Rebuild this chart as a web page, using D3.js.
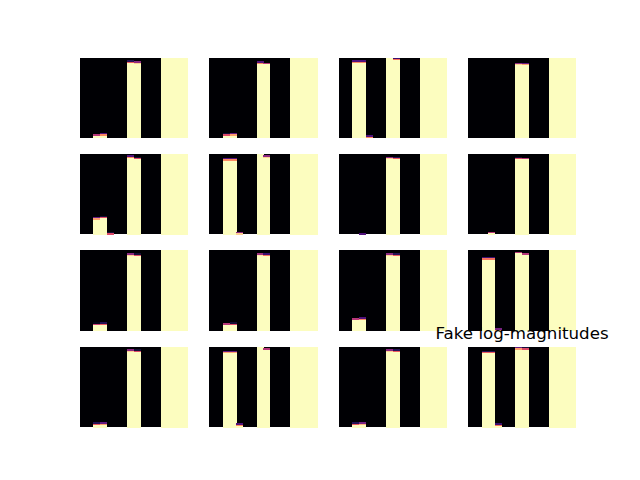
<!doctype html>
<html>
<head>
<meta charset="utf-8">
<title>Fake log-magnitudes</title>
<script src="https://cdn.jsdelivr.net/npm/d3@7"></script>
<style>
  body { margin: 0; background: #fff; }
  svg { display: block; }
</style>
</head>
<body>
<div id="chart"></div>
<script>
// 4x4 grid of fake spectra, 16 frequency bins x 64 rows each
var nBins = 16, nRows = 64;
var gridRows = [0, 1, 2, 3];
var gridCols = [0, 1, 2, 3];
var bins = d3.range(nBins);

// fill level (in rows from the bottom) of every bin, one list per panel
var panel00 = [0, 0, 3.0, 3.5, 0, 0, 0, 61.3, 60.8, 0, 0, 0, 66, 66, 66, 66];
var panel01 = [0, 0, 3.2, 3.6, 0, 0, 0, 60.5, 60.0, 0, 0, 0, 66, 66, 66, 66];
var panel02 = [0, 0, 61.5, 61.5, 1.5, 0, 0, 66, 63.4, 0, 0, 0, 66, 66, 66, 66];
var panel03 = [0, 0, 0, 0, 0, 0, 0, 59.8, 59.6, 0, 0, 0, 66, 66, 66, 66];
var panel10 = [0, 0, 13.6, 14.2, 1.2, 0, 0, 62.5, 61.2, 0, 0, 0, 66, 66, 66, 66];
var panel11 = [0, 0, 60.5, 60.5, 1.8, 0, 0, 66, 62.8, 0, 0, 0, 66, 66, 66, 66];
var panel12 = [0, 0, 0, 0.5, 0, 0, 0, 61.8, 61.3, 0, 0, 0, 66, 66, 66, 66];
var panel13 = [0, 0, 0, 2.0, 0, 0, 0, 61.2, 61.0, 0, 0, 0, 66, 66, 66, 66];
var panel20 = [0, 0, 6.1, 6.3, 0, 0, 0, 61.8, 61.2, 0, 0, 0, 66, 66, 66, 66];
var panel21 = [0, 0, 6.0, 6.2, 0, 0, 0, 61.9, 61.4, 0, 0, 0, 66, 66, 66, 66];
var panel22 = [0, 0, 10.0, 10.5, 0, 0, 0, 61.8, 61.3, 0, 0, 0, 66, 66, 66, 66];
var panel23 = [0, 0, 58.4, 58.4, 1.7, 0, 0, 63.0, 62.0, 0, 0, 0, 66, 66, 66, 66];
var panel30 = [0, 0, 3.3, 3.6, 0, 0, 0, 61.8, 61.2, 0, 0, 0, 66, 66, 66, 66];
var panel31 = [0, 0, 60.6, 60.6, 2.5, 0, 0, 66, 63.0, 0, 0, 0, 66, 66, 66, 66];
var panel32 = [0, 0, 3.3, 3.7, 0, 0, 0, 61.8, 61.3, 0, 0, 0, 66, 66, 66, 66];
var panel33 = [0, 0, 60.3, 60.3, 2.4, 0, 0, 63.6, 63.2, 0, 0, 0, 66, 66, 66, 66];

var panels = [
    [panel00, panel01, panel02, panel03],
    [panel10, panel11, panel12, panel13],
    [panel20, panel21, panel22, panel23],
    [panel30, panel31, panel32, panel33]
];

var title = "Fake log-magnitudes";

var width = 640, height = 480;

var svg = d3.select("#chart").append("svg")
    .attr("width", width)
    .attr("height", height);

// subplot placement, like matplotlib's default 4x4 grid
var gx = d3.scaleBand().domain(gridCols).range([80, 576]).paddingInner(1 / 6);
var gy = d3.scaleBand().domain(gridRows).range([57.6, 427.2]).paddingInner(1 / 6);

var x = d3.scaleBand().domain(bins).range([0, gx.bandwidth()]);
var y = d3.scaleLinear().domain([0, nRows]).range([gy.bandwidth(), 0]);
var color = d3.scaleSequential(d3.interpolateMagma).domain([0, 1]);

// cell value: full inside the level, soft over the top two rows
var cellValue = function(level, r) {
    return Math.max(0, Math.min(1, (level - r) / 2));
};

gridRows.forEach(function(i) {
    gridCols.forEach(function(j) {
        var levels = panels[i][j];
        var g = svg.append("g")
            .attr("transform", "translate(" + gx(j) + "," + gy(i) + ")")
            .attr("shape-rendering", "crispEdges");

        g.append("rect")
            .attr("width", gx.bandwidth())
            .attr("height", gy.bandwidth())
            .attr("fill", color(0));

        var cells = [];
        bins.forEach(function(b) {
            for (var r = 0; r < nRows; r++) {
                var v = cellValue(levels[b], r);
                if (v > 0.02) cells.push({ b: b, r: r, v: v });
            }
        });

        g.selectAll("rect.cell")
            .data(cells)
            .enter().append("rect")
            .attr("class", "cell")
            .attr("x", function(d) { return x(d.b); })
            .attr("y", function(d) { return y(d.r + 1); })
            .attr("width", x.bandwidth() + 0.3)
            .attr("height", y(0) - y(1) + 0.3)
            .attr("fill", function(d) { return color(d.v); });
    });
});

// title ends up above the last panel
svg.append("text")
    .attr("x", gx(3) + gx.bandwidth() / 2)
    .attr("y", gy(3) - 8)
    .attr("text-anchor", "middle")
    .attr("font-family", "DejaVu Sans")
    .attr("font-size", "16.67px")
    .attr("fill", "#000")
    .text(title);
</script>
</body>
</html>
